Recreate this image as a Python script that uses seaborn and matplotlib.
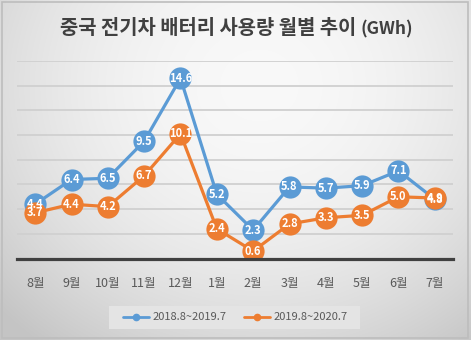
import numpy as np
import pandas as pd
import matplotlib
matplotlib.use("Agg")
import matplotlib.pyplot as plt
import seaborn as sns
from matplotlib.patches import Rectangle
from matplotlib.lines import Line2D

months = ["8월", "9월", "10월", "11월", "12월", "1월", "2월", "3월", "4월", "5월", "6월", "7월"]
series_names = ["2018.8~2019.7", "2019.8~2020.7"]
s2019 = [4.4, 6.4, 6.5, 9.5, 14.6, 5.2, 2.3, 5.8, 5.7, 5.9, 7.1, 4.8]
s2020 = [3.7, 4.4, 4.2, 6.7, 10.1, 2.4, 0.6, 2.8, 3.3, 3.5, 5.0, 4.9]
colors = ["#5B9BD5", "#ED7D31"]

df = pd.DataFrame({
    "month": months * 2,
    "value": s2019 + s2020,
    "series": [series_names[0]] * len(months) + [series_names[1]] * len(months),
})

sns.set_style("white")
plt.rcParams["font.family"] = ["Noto Sans CJK KR", "DejaVu Sans"]

W, H = 471, 340
fig = plt.figure(figsize=(W / 100, H / 100), dpi=100)

# background radial gradient
bg = fig.add_axes([0, 0, 1, 1], zorder=-10)
yy, xx = np.mgrid[0:H, 0:W]
r2 = ((xx - W * 0.55) / (W * 0.75)) ** 2 + ((yy - H * 0.25) / (H * 0.95)) ** 2
val = np.clip(0.975 - 0.2 * r2, 0.77, 1.0)
bg.imshow(np.dstack([val, val, val]), aspect="auto", extent=[0, 1, 0, 1], origin="upper")
bg.add_patch(Rectangle((2 / W, 2 / H), (W - 5) / W, (H - 4) / H, fill=False,
                       edgecolor="#bdbdbd", lw=1.2, transform=bg.transAxes))
# legend box
bg.add_patch(Rectangle((109 / W, 1 - 329 / H), (360 - 109) / W, 23 / H, facecolor="#e4e4e4",
                       edgecolor="none", transform=bg.transAxes))
bg.set_xlim(0, 1)
bg.set_ylim(0, 1)
bg.set_axis_off()

ax = fig.add_axes([17 / W, (H - 258.5) / H, (453 - 17) / W, (258.5 - 61) / H])
ax.patch.set_alpha(0)

sns.lineplot(data=df, x="month", y="value", hue="series", palette=colors, sort=False,
             marker="o", markersize=16, linewidth=2.3, markeredgewidth=0, ax=ax, legend=False)

ax.set_xlim(-0.5, len(months) - 0.5)
ax.set_ylim(0, 16)
ax.set_yticks(np.arange(0, 17, 2))
ax.yaxis.grid(True, color="#d0d0d0", lw=1.3)
ax.set_axisbelow(True)
for sp in ["top", "right", "left"]:
    ax.spines[sp].set_visible(False)
ax.spines["bottom"].set_color("#404040")
ax.spines["bottom"].set_linewidth(2.3)
ax.set_yticklabels([])
ax.tick_params(axis="y", length=0)
ax.tick_params(axis="x", length=0, pad=13, labelsize=9, labelcolor="#595959")
ax.set_xlabel("")
ax.set_ylabel("")

for vals in (s2019, s2020):
    for i, v in enumerate(vals):
        ax.text(i, v, f"{v:.1f}", ha="center", va="center", color="white",
                fontsize=8, fontweight="bold", zorder=20)

# title
fig.text(356 / W, 1 - 28 / H, "중국 전기차 배터리 사용량 월별 추이", ha="right", va="center",
         fontsize=14.3, color="#404040", fontweight="bold")
fig.text(361 / W, 1 - 29 / H, "(GWh)", ha="left", va="center", fontsize=12.5,
         color="#404040", fontweight="bold")

# legend
handles = [Line2D([0], [0], color=c, lw=2, marker="o", markersize=4.5) for c in colors]
leg = fig.legend(handles, series_names, loc="center", bbox_to_anchor=(235 / W, 1 - 317.5 / H),
                 ncol=2, frameon=False, fontsize=8, handlelength=2.4, columnspacing=1.6,
                 handletextpad=0.25, borderpad=0.3)
for t in leg.get_texts():
    t.set_color("#595959")

fig.savefig("out.png", dpi=100)
